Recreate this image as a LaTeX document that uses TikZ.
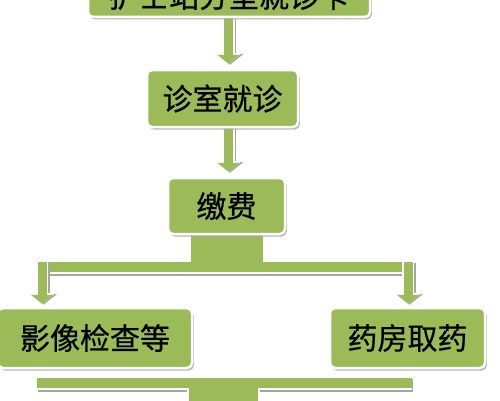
\documentclass[tikz,border=0pt]{standalone}
\usepackage{fontspec}
\newfontfamily\cjk[FakeBold=0.6]{Noto Sans CJK SC}
\usetikzlibrary{arrows.meta,shadows,backgrounds}
\definecolor{olive}{RGB}{155,187,89}
\definecolor{shade}{RGB}{165,165,165}
\begin{document}
\begin{tikzpicture}[x=1pt,y=1pt,
  box/.style={draw=white, line width=2.5pt, fill=olive, rounded corners=5pt,
    inner sep=0pt, text=black, font=\cjk\fontsize{30}{30}\selectfont,
    drop shadow={shadow xshift=1.8pt, shadow yshift=-2.5pt, fill=shade, opacity=0.8}},
  arrw/.style={draw=olive, line width=9pt, -{Triangle[length=9pt,width=22pt]},
    preaction={draw=shade, line width=12pt, -{Triangle[length=11pt,width=27pt]}, transform canvas={xshift=1.5pt,yshift=-1pt}},
    preaction={draw=white, line width=12pt, -{Triangle[length=11pt,width=27pt]}}},
  bar/.style={draw=olive, line width=10pt,
    preaction={draw=shade, line width=13pt, transform canvas={xshift=1pt,yshift=-2.5pt}},
    preaction={draw=white, line width=13pt}},
  trunk/.style={draw=olive, line width=#1,
    preaction={draw=white, line width=#1+4pt}}
]
\useasboundingbox (0,0) rectangle (500,400);
\clip (0,0) rectangle (500,400);

\node[box, minimum width=282pt, minimum height=42pt] (top) at (229,404) {护士站分室就诊卡};
\node[box, minimum width=151pt, minimum height=57pt] (b2) at (222.5,301.5) {诊室就诊};
\node[box, minimum width=117pt, minimum height=56pt] (b3) at (226.5,194) {缴费};
\node[box, minimum width=194pt, minimum height=60pt] (b4) at (95,62) {影像检查等};
\node[box, minimum width=155pt, minimum height=60pt] (b5) at (407.5,62) {药房取药};

\coordinate (hL) at (37,133);
\coordinate (hR) at (412,133);
\coordinate (dL) at (42,138);
\coordinate (dR) at (408,138);
\coordinate (mL) at (37,17);
\coordinate (mR) at (412,17);
\coordinate (mT) at (223.5,12);
\coordinate (next) at (223.5,-20);

\begin{scope}[on background layer]
  \draw[arrw, shorten >=5pt] ([xshift=-0.5pt]top.south) -- ([xshift=6pt]b2.north);
  \draw[arrw, shorten >=5pt] ([xshift=6pt]b2.south) -- ([xshift=2pt]b3.north);
  \draw[bar] (hL) -- (hR);
  \draw[trunk=72pt] (b3.south) -- (b3.south |- dL);
  \draw[arrw, shorten >=3pt] (dL) -- (b4.north -| dL);
  \draw[arrw, shorten >=3pt] (dR) -- (b5.north -| dR);
  \draw[bar] (mL) -- (mR);
  \draw[trunk=69pt] (mT) -- (next);
\end{scope}
\end{tikzpicture}
\end{document}
